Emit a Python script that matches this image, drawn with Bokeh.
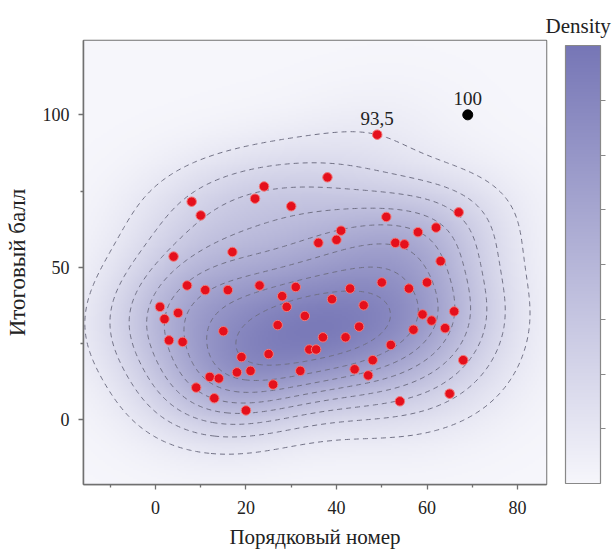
import numpy as np
from bokeh.plotting import figure
from bokeh.models import (LinearColorMapper, ColorBar, FixedTicker, CustomJSTickFormatter,
                          ColumnDataSource, Range1d, Title)
from bokeh.core.properties import value
from bokeh.embed import file_html
from bokeh.resources import INLINE

# ---- data ----
order_no = [24, 22, 8, 10, 30, 4, 17, 7, 11, 16,
            23, 31, 28, 29, 33, 1, 2, 5, 27, 15,
            38, 67, 51, 62, 58, 41, 40, 36, 53, 55,
            63, 60, 50, 56, 43, 39, 46, 59, 61, 66,
            64, 45, 57, 3, 6, 19, 25, 18, 21, 12,
            14, 9, 26, 32, 13, 20, 37, 42, 34, 35.5,
            52, 48, 44, 47, 68, 65, 54, 49]
score = [76.5, 72.5, 71.5, 67, 70, 53.5, 55, 44, 42.5, 42.5,
         44, 43.5, 40.5, 37, 34, 37, 33, 35, 31, 29,
         79.5, 68, 66.5, 63, 61.5, 62, 59, 58, 58, 57.5,
         52, 45, 45, 43, 43, 39.5, 37.5, 34.5, 32.5, 35.5,
         30, 30.5, 29.5, 26, 25.5, 20.5, 21.5, 15.5, 16, 14,
         13.5, 10.5, 11.5, 16, 7, 3, 27, 27, 23, 23,
         24.5, 19.5, 16.5, 14.5, 19.5, 8.5, 6, 93.5]
max_x = [49]
max_y = [93.5]
max_label = ["93,5"]
ideal_x = [69]
ideal_y = [100]
ideal_label = ["100"]
x_ticks = [0, 20, 40, 60, 80]
y_ticks = [0, 50, 100]

X_RANGE = (-15.9, 86.4)
Y_RANGE = (-21.3, 124.4)

# ---- 2D Gaussian KDE (Scott's rule, widened, full covariance) ----
data = np.vstack([order_no, score]).astype(float)
n = data.shape[1]
factor = 1.25 * n ** (-1.0 / 6)
cov = np.cov(data) * factor ** 2
inv = np.linalg.inv(cov)
norm = 1.0 / (2 * np.pi * np.sqrt(np.linalg.det(cov)) * n)
gx = np.linspace(X_RANGE[0], X_RANGE[1], 230)
gy = np.linspace(Y_RANGE[0], Y_RANGE[1], 230)
GX, GY = np.meshgrid(gx, gy)


def kde(X, Y):
    out = np.zeros_like(X, dtype=float)
    for i in range(n):
        dx = X - data[0, i]
        dy = Y - data[1, i]
        q = inv[0, 0] * dx * dx + 2 * inv[0, 1] * dx * dy + inv[1, 1] * dy * dy
        out += np.exp(-0.5 * q)
    return out * norm


Z = kde(GX, GY)
zmax = Z.max()
z_outer = float(kde(np.array([max_x[0]], dtype=float), np.array([max_y[0]], dtype=float))[0])

FONT = "Liberation Serif"

p = figure(width=613, height=553, output_backend="svg", toolbar_location=None,
           x_range=Range1d(*X_RANGE), y_range=Range1d(*Y_RANGE),
           min_border_left=83, min_border_top=40, min_border_bottom=69,
           min_border_right=67)
p.background_fill_color = "white"
p.border_fill_color = "white"
p.grid.visible = False
p.outline_line_color = "#707070"
p.outline_line_width = 1.5


def lerp(c1, c2, t):
    return "#%02x%02x%02x" % tuple(int(round(a + (b - a) * t)) for a, b in zip(c1, c2))


low_c = (246, 246, 251)
high_c = (118, 118, 182)
palette = [lerp(low_c, high_c, t) for t in np.linspace(0, 1, 256)]
mapper = LinearColorMapper(palette=palette, low=0, high=zmax * 1.03)

p.image(image=[Z], x=X_RANGE[0], y=Y_RANGE[0], dw=X_RANGE[1] - X_RANGE[0],
        dh=Y_RANGE[1] - Y_RANGE[0], color_mapper=mapper)

levels = list(z_outer + (zmax - z_outer) * np.arange(8) / 8.0)
p.contour(gx, gy, Z, levels=levels, line_color="#707084", line_dash="5 4",
          line_width=1.0, fill_color=None)

p.scatter(order_no, score, size=9.5, fill_color="#e5101c", line_color="#f27a7a",
          line_width=1)
p.scatter(ideal_x, ideal_y, size=10, fill_color="black", line_color="black")

lab_src = ColumnDataSource(dict(x=max_x + ideal_x, y=max_y + ideal_y, t=max_label + ideal_label))
p.text(x="x", y="y", text="t", source=lab_src, text_align="center",
       text_baseline="bottom", y_offset=-10, text_font=value(FONT),
       text_font_size="19px", text_color="#222222")

for ax in (p.xaxis[0], p.yaxis[0]):
    ax.axis_line_color = "#707070"
    ax.axis_line_width = 1.5
    ax.major_tick_line_color = "#707070"
    ax.minor_tick_line_color = "#707070"
    ax.major_tick_line_width = 1.3
    ax.minor_tick_line_width = 1.3
    ax.major_tick_out = 5
    ax.major_tick_in = 0
    ax.minor_tick_out = 3
    ax.minor_tick_in = 0
    ax.major_label_text_font = FONT
    ax.major_label_text_font_size = "18px"
    ax.major_label_text_color = "#222222"
    ax.axis_label_text_font = FONT
    ax.axis_label_text_font_style = "normal"
    ax.axis_label_text_color = "#222222"

p.xaxis.axis_label_text_font_size = "21px"
p.yaxis.axis_label_text_font_size = "23px"
p.xaxis.ticker = FixedTicker(ticks=x_ticks, minor_ticks=[-10, 10, 30, 50, 70])
p.yaxis.ticker = FixedTicker(ticks=y_ticks, minor_ticks=[25, 75])
p.xaxis.axis_label = "Порядковый номер"
p.yaxis.axis_label = "Итоговый балл"
p.xaxis.major_label_standoff = 11
p.yaxis.major_label_standoff = 9
p.xaxis.axis_label_standoff = 8
p.yaxis.axis_label_standoff = 10

cb = ColorBar(color_mapper=mapper, width=35, height=438,
              ticker=FixedTicker(ticks=[zmax * 1.03 * i / 8 for i in range(1, 8)]),
              formatter=CustomJSTickFormatter(code="return ''"),
              major_tick_out=5, major_tick_in=0, major_tick_line_color="#888888",
              bar_line_color="#888888", bar_line_width=1.2,
              padding=0, label_standoff=0,
              background_fill_color=None, background_fill_alpha=0,
              border_line_color=None, location=(482, 1))
p.add_layout(cb, "center")

cb_title = Title(text="Density", align="left", offset=462, standoff=6,
                 text_font=FONT, text_font_size="21px", text_font_style="normal",
                 text_color="#222222")
p.add_layout(cb_title, "above")

open("out.html", "w").write(file_html(p, INLINE))
